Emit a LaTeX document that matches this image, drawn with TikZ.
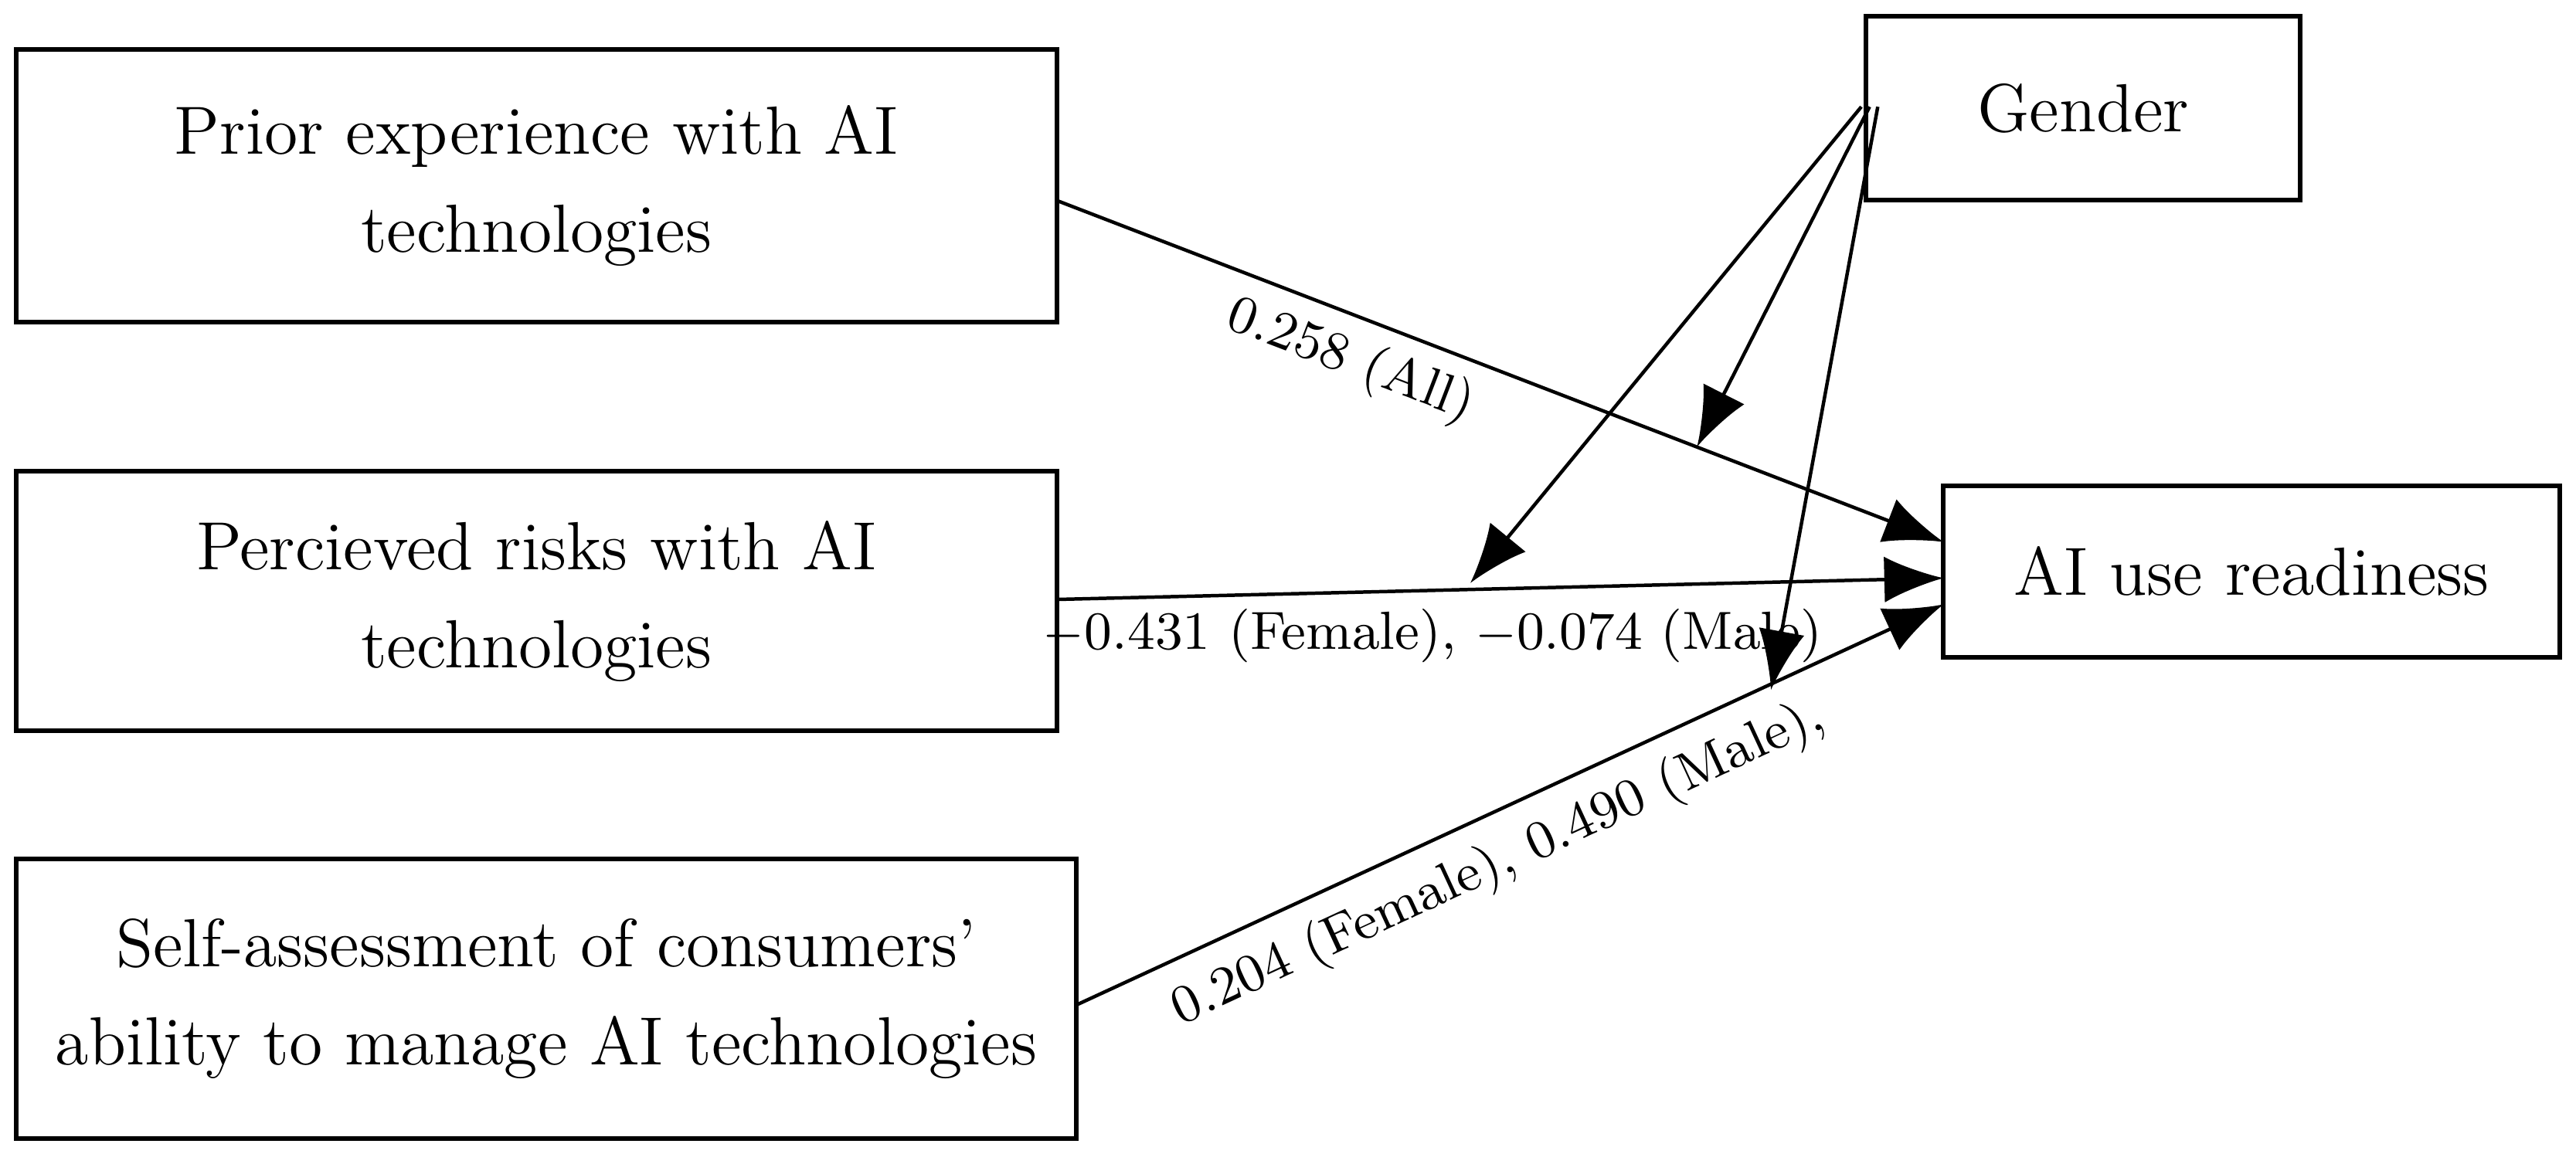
\documentclass[tikz,border=0pt]{standalone}
\usetikzlibrary{arrows.meta,positioning}
\tikzset{
  box/.style={draw, thick, align=center, font=\fontsize{11.8}{17}\selectfont, inner sep=0pt},
  path/.style={semithick, -{Latex[length=3.6mm,width=2.8mm]}},
  coef/.style={font=\fontsize{9.3}{11}\selectfont, inner sep=1pt}
}
\begin{document}
\begin{tikzpicture}[x=0.01cm, y=-0.01cm]
  \useasboundingbox (0,0) rectangle (1568,702.2);
  % boxes
  \node[box, minimum width=6.33cm, minimum height=1.66cm] (prior) at (326.5,113) {Prior experience with AI\\technologies};
  \node[box, minimum width=6.33cm, minimum height=1.58cm] (risk) at (326.5,366) {Percieved risks with AI\\technologies};
  \node[box, minimum width=6.45cm, minimum height=1.70cm] (self) at (332.5,608) {Self-assessment of consumers'\\ability to manage AI technologies};
  \node[box, minimum width=2.64cm, minimum height=1.12cm] (gender) at (1268,66) {Gender};
  \node[box, minimum width=3.75cm, minimum height=1.04cm] (ready) at (1370.5,348) {AI use readiness};
  % end points
  \coordinate (p1) at (643,122);
  \coordinate (p2) at (643,365);
  \coordinate (p3) at (655,612);
  \coordinate (r1) at (1183,330);
  \coordinate (r2) at (1183,352);
  \coordinate (r3) at (1183,368);
  \coordinate (g1) at (1133,65);
  \coordinate (g2) at (1138,65);
  \coordinate (g3) at (1143,65);
  \coordinate (m1) at (895,355);
  \coordinate (m2) at (1033,272);
  \coordinate (m3) at (1078,420);
  % direct paths
  \draw[path] (p1) -- (r1);
  \draw[path] (p2) -- (r2);
  \draw[path] (p3) -- (r3);
  % moderation by gender
  \draw[path] (g1) -- (m1);
  \draw[path] (g2) -- (m2);
  \draw[path] (g3) -- (m3);
  % labels
  \node[coef, rotate=-21] (c1) at (822,220) {0.258 (All)};
  \node[coef] (c2) at (872,387) {$-$0.431 (Female), $-$0.074 (Male)};
  \node[coef, rotate=24.8] (c3) at (912,526) {0.204 (Female), 0.490 (Male),};
\end{tikzpicture}
\end{document}
